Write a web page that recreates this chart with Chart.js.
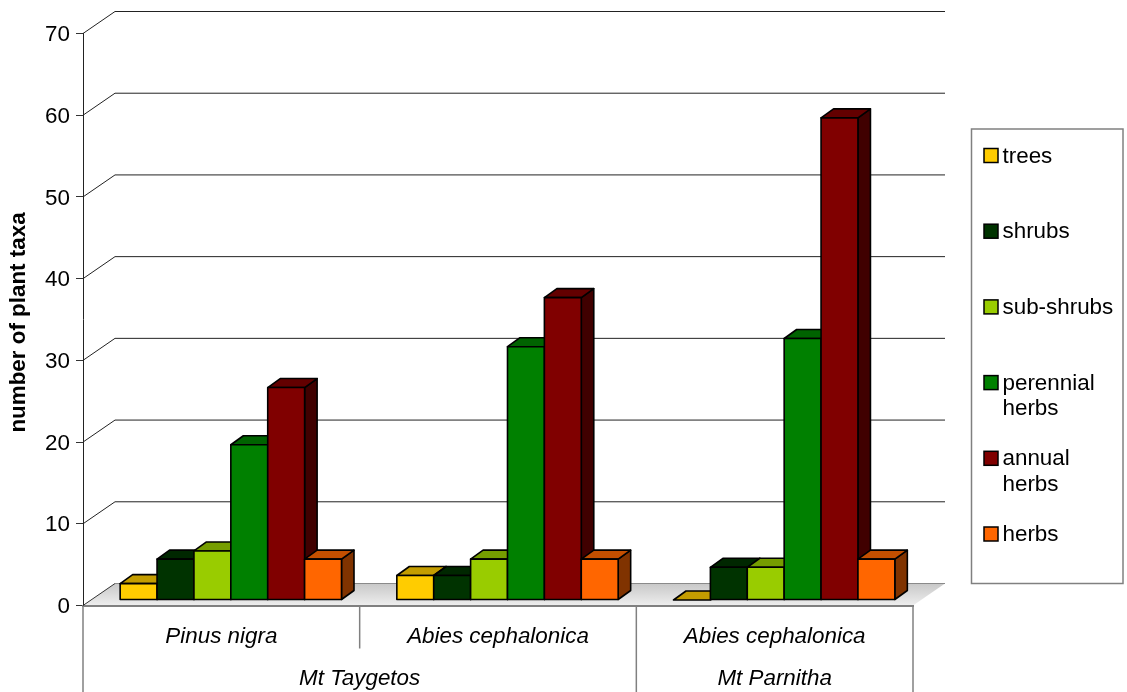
<!DOCTYPE html>
<html><head><meta charset="utf-8">
<style>html,body{margin:0;padding:0;background:#fff}canvas{display:block}</style>
<script src="https://cdn.jsdelivr.net/npm/chart.js@4"></script>
</head><body>
<canvas id="c" width="1127" height="692"></canvas>
<script>
const categories = ['Pinus nigra','Abies cephalonica','Abies cephalonica'];
const groups = [{label:'Mt Taygetos',from:0,to:1},{label:'Mt Parnitha',from:2,to:2}];
const seriesNames = ['trees','shrubs','sub-shrubs','perennial herbs','annual herbs','herbs'];
const legendLines = [['trees'],['shrubs'],['sub-shrubs'],['perennial','herbs'],['annual','herbs'],['herbs']];
const colors = ['#ffcc00','#003300','#99cc00','#008000','#800000','#ff6600'];
const trees = [2,3,0];
const shrubs = [5,3,4];
const subShrubs = [6,5,4];
const perennialHerbs = [19,31,32];
const annualHerbs = [26,37,59];
const herbs = [5,5,5];
const seriesValues = [trees,shrubs,subShrubs,perennialHerbs,annualHerbs,herbs];
const yTicksMax = 70, yStep = 10;

const FONT = '"Liberation Sans", Arial, sans-serif';
const FS = 22.4;
const WALL = {dx:32, dy:-22};      // depth of the floor / walls
const BAR = {dx:12.5, dy:-9};      // depth of each bar
const SHIFT = {x:9.5, y:-5.5};     // bars stand in the middle of the floor
const EDGE = 1.6;
function shade(hex,f){
  const n=parseInt(hex.slice(1),16);
  return 'rgb('+[(n>>16)&255,(n>>8)&255,n&255].map(v=>Math.round(v*f)).join(',')+')';
}
function poly(ctx,pts,fill,stroke,lw){
  ctx.beginPath();pts.forEach((p,i)=>i?ctx.lineTo(p[0],p[1]):ctx.moveTo(p[0],p[1]));ctx.closePath();
  if(fill){ctx.fillStyle=fill;ctx.fill();}
  if(stroke){ctx.strokeStyle=stroke;ctx.lineWidth=lw;ctx.lineJoin='round';ctx.stroke();}
}
function line(ctx,x1,y1,x2,y2,c,w){ctx.beginPath();ctx.moveTo(x1,y1);ctx.lineTo(x2,y2);ctx.strokeStyle=c;ctx.lineWidth=w;ctx.stroke();}
function nudge(scale,method,dy){
  const orig=scale[method];
  scale[method]=function(area){const c=this.ctx;c.save();c.translate(0,dy);orig.call(this,area);c.restore();};
}

const scene3d = {
  id:'scene3d',
  afterLayout(chart){
    const y=chart.scales.y;
    if(!y._nudged){y._nudged=true;nudge(y,'drawLabels',1.5);nudge(y,'drawTitle',3);}
  },
  beforeDraw(chart){
    const {ctx,chartArea:a,scales:{y}}=chart;
    ctx.save();
    const b=a.bottom,l=a.left,r=a.right;
    const g=ctx.createLinearGradient(0,b+WALL.dy,0,b);
    g.addColorStop(0,'#c8c8c8');g.addColorStop(1,'#eeeeee');
    poly(ctx,[[l,b],[r,b],[r+WALL.dx,b+WALL.dy],[l+WALL.dx,b+WALL.dy]],g);
    y.ticks.forEach(t=>{
      const py=y.getPixelForValue(t.value);
      if(t.value===0){
        line(ctx,l,py,l+WALL.dx,py+WALL.dy,'#333',1);
        line(ctx,l+WALL.dx,py+WALL.dy,r+WALL.dx,py+WALL.dy,'#8a8a8a',1);
        return;
      }
      ctx.beginPath();ctx.moveTo(l,py);ctx.lineTo(l+WALL.dx,py+WALL.dy);ctx.lineTo(r+WALL.dx,py+WALL.dy);
      ctx.strokeStyle='#222';ctx.lineWidth=1;ctx.stroke();
    });
    ctx.restore();
  },
  // Bars are painted left to right so each front face covers its neighbour's side.
  beforeDatasetsDraw(chart){
    const ctx=chart.ctx;
    ctx.save();ctx.translate(SHIFT.x,SHIFT.y);
    seriesNames.forEach((n,i)=>{
      const meta=chart.getDatasetMeta(i),col=colors[i],d=BAR;
      const boxes=meta.data.map(bar=>bar.getProps(['x','y','base','width'],true));
      boxes.forEach(p=>{
        const x0=p.x-p.width/2,x1=p.x+p.width/2,top=p.y,base=p.base;
        if(base-top>0.5) poly(ctx,[[x1,top],[x1+d.dx,top+d.dy],[x1+d.dx,base+d.dy],[x1,base]],shade(col,0.5),'#000',EDGE);
        poly(ctx,[[x0,top],[x1,top],[x1+d.dx,top+d.dy],[x0+d.dx,top+d.dy]],shade(col,0.77),'#000',EDGE);
      });
      meta.controller.draw();
      boxes.forEach(p=>{
        if(p.base-p.y>0.5){ctx.strokeStyle='#000';ctx.lineWidth=EDGE;ctx.strokeRect(p.x-p.width/2,p.y,p.width,p.base-p.y);}
      });
    });
    ctx.restore();
  },
  beforeDatasetDraw(){return false;},
  afterDraw(chart){
    const {ctx,chartArea:a,scales:{x}}=chart;
    ctx.save();
    const half=(x.getPixelForValue(1)-x.getPixelForValue(0))/2;
    const H=chart.height,b=a.bottom;
    const grey='#808080';
    line(ctx,a.left,b,a.left,H,grey,1.5);
    categories.forEach((c,i)=>{
      const px=x.getPixelForValue(i)+half;
      const isGroupEnd=groups.some(g=>g.to===i);
      line(ctx,px,b,px,isGroupEnd?H:b+43,grey,1.5);
    });
    ctx.fillStyle='#000';ctx.textAlign='center';ctx.textBaseline='middle';
    ctx.font='italic '+FS+'px '+FONT;
    groups.forEach(g=>{
      const c=(x.getPixelForValue(g.from)+x.getPixelForValue(g.to))/2;
      ctx.fillText(g.label,c,678.5);
    });
    ctx.strokeStyle=grey;ctx.lineWidth=1.5;ctx.strokeRect(971.5,129,151.5,454.5);
    ctx.textAlign='left';ctx.font=FS+'px '+FONT;
    legendLines.forEach((ls,i)=>{
      const cy=155.5+i*75.7;
      ctx.fillStyle=colors[i];ctx.fillRect(984,cy-7,14,14);
      ctx.strokeStyle='#000';ctx.lineWidth=1.5;ctx.strokeRect(984,cy-7,14,14);
      ctx.fillStyle='#000';
      ls.forEach((t,j)=>ctx.fillText(t,1002.5,cy+1+j*25.5));
    });
    ctx.restore();
  }
};

new Chart(document.getElementById('c'),{
  type:'bar',
  data:{labels:categories,datasets:seriesNames.map((n,i)=>({
    label:n,data:seriesValues[i],backgroundColor:colors[i],borderWidth:0,
    clip:false,categoryPercentage:0.8,barPercentage:1
  }))},
  options:{
    responsive:false,animation:false,
    layout:{padding:{top:33.5,right:214,left:0,bottom:0}},
    plugins:{legend:{display:false},tooltip:{enabled:false},title:{display:false}},
    scales:{
      x:{
        afterFit(s){s.height=86.5;},
        grid:{display:false,drawTicks:false},
        border:{display:true,color:'#808080',width:2},
        ticks:{autoSkip:false,maxRotation:0,minRotation:0,padding:18,color:'#000',font:{family:FONT,size:FS,style:'italic'}}
      },
      y:{
        min:0,max:yTicksMax,
        afterFit(s){s.width=83;},
        grid:{drawOnChartArea:false,drawTicks:true,tickLength:7,color:'#333',lineWidth:1},
        border:{display:true,color:'#222',width:1},
        ticks:{stepSize:yStep,padding:6,color:'#000',font:{family:FONT,size:FS}},
        title:{display:true,text:'number of plant taxa',color:'#000',padding:{top:5,bottom:0},font:{family:FONT,size:22.4,weight:'bold'}}
      }
    }
  },
  plugins:[scene3d]
});
</script>
</body></html>
